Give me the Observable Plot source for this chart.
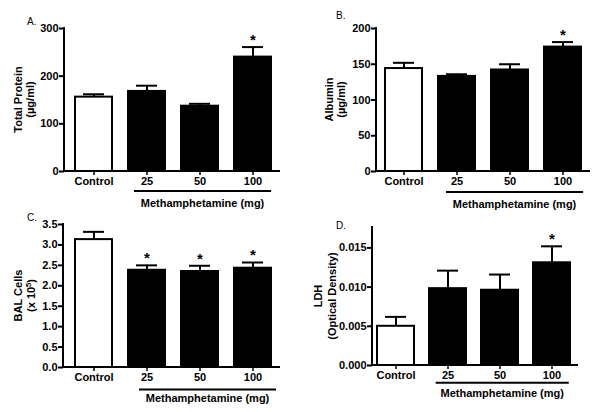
<!DOCTYPE html>
<html><head><meta charset="utf-8">
<script src="https://cdn.jsdelivr.net/npm/d3@7"></script>
<script src="https://cdn.jsdelivr.net/npm/@observablehq/plot@0.6"></script>
<style>
body{margin:0;background:#fff;}
#wrap{position:relative;width:600px;height:412px;overflow:hidden;font-family:"Liberation Sans",Arial,sans-serif;color:#000;}
.panel{position:absolute;}
.panel svg{background:transparent;}
.panel svg text{font-weight:bold;}
.lab{position:absolute;font-size:10px;line-height:12px;color:#000;}
</style></head><body><div id="wrap"></div>
<script>
// ---- data ----
const categories = ["Control", "25", "50", "100"];
const doseLabel = "Methamphetamine (mg)";

const proteinMean = [156, 168, 137, 240];
const proteinSem  = [6, 12, 5, 21];
const proteinStar = [0, 0, 0, 1];
const proteinTicks = [0, 100, 200, 300];

const albuminMean = [144, 133, 142, 174];
const albuminSem  = [8, 3, 8, 7];
const albuminStar = [0, 0, 0, 1];
const albuminTicks = [0, 50, 100, 150, 200];

const balMean = [3.13, 2.38, 2.35, 2.43];
const balSem  = [0.19, 0.12, 0.14, 0.14];
const balStar = [0, 1, 1, 1];
const balTicks = [0, 0.5, 1.0, 1.5, 2.0, 2.5, 3.0, 3.5];

const ldhMean = [0.0050, 0.0098, 0.0096, 0.0131];
const ldhSem  = [0.0012, 0.0023, 0.0020, 0.0021];
const ldhStar = [0, 0, 0, 1];
const ldhTicks = [0, 0.005, 0.010, 0.015];

const FONT = '"Liberation Sans", Arial, Helvetica, sans-serif';

function rows(mean, sem, star) {
  return categories.map((c, i) => ({cat: c, value: mean[i], top: mean[i] + sem[i], star: star[i] === 1, control: i === 0}));
}

const panels = [
  {letter: "A.", left: 0, top: 0, lx: 27, ly: 22, data: rows(proteinMean, proteinSem, proteinStar),
   mL: 64, mR: 20, mT: 28, mB: 41, xr: [74, 272], pad: 0.3, yd: [0, 300], ticks: proteinTicks, fmt: d => String(d),
   title: [[["Total Protein"]], [["(µg/ml)"]]], tx: [18, 30], under: [6, 0], uDy: 20, lDy: 32},
  {letter: "B.", left: 300, top: 0, lx: 36, ly: 16, data: rows(albuminMean, albuminSem, albuminStar),
   mL: 76, mR: 10, mT: 28, mB: 41, xr: [84, 282], pad: 0.3, yd: [0, 200], ticks: albuminTicks, fmt: d => String(d),
   title: [[["Albumin"]], [["(µg/ml)"]]], tx: [29, 41], under: [8, 2], uDy: 21, lDy: 33},
  {letter: "C.", left: 0, top: 200, lx: 27, ly: 18, data: rows(balMean, balSem, balStar),
   mL: 63, mR: 20, mT: 24, mB: 45, xr: [74, 273], pad: 0.3, yd: [0, 3.5], ticks: balTicks, fmt: d3.format(".1f"),
   title: [[["BAL Cells"]], [["(x 10"], ["5", true], [")"]]], tx: [18, 31], under: [11, 5], uDy: 22.6, lDy: 31.3},
  {letter: "D.", left: 300, top: 200, lx: 36, ly: 26, data: rows(ldhMean, ldhSem, ldhStar),
   mL: 72, mR: 22, mT: 27, mB: 47, xr: [76, 271], pad: 0.28, yd: [0, 0.0176], ticks: ldhTicks, fmt: d3.format(".3f"),
   title: [[["LDH"]], [["(Optical Density)"]]], tx: [18.3, 31.7], under: [6.7, -1.7], uDy: 17.7, lDy: 27.7}
];

function decor(cfg) {
  return (index, scales, values, dims) => {
    const x = scales.x;
    const g = d3.create("svg:g").attr("fill", "#000").attr("font-family", FONT);
    const x0 = dims.marginLeft, x1 = dims.width - dims.marginRight;
    const yt = dims.marginTop, yb = dims.height - dims.marginBottom;
    g.append("line").attr("x1", x0).attr("x2", x0).attr("y1", yt - 1).attr("y2", yb + 1)
      .attr("stroke", "#000").attr("stroke-width", 2);
    g.append("line").attr("x1", x0 - 1).attr("x2", x1).attr("y1", yb).attr("y2", yb)
      .attr("stroke", "#000").attr("stroke-width", 2);
    const yc = (yt + yb) / 2;
    cfg.title.forEach((segs, i) => {
      const t = g.append("text").attr("transform", `translate(${cfg.tx[i]},${yc}) rotate(-90)`)
        .attr("text-anchor", "middle").attr("dy", "0.35em").attr("font-size", 11).attr("font-weight", "bold");
      segs.forEach(([s, sup]) => {
        const ts = t.append("tspan").text(s);
        if (sup) ts.attr("font-size", 7.5).attr("dy", -4);
        else if (t.selectAll("tspan").size() > 1) ts.attr("dy", 4);
      });
    });
    const step = x(categories[2]) - x(categories[1]);
    const bw = step * (1 - cfg.pad);
    const ux1 = x(categories[1]) + cfg.under[0];
    const ux2 = x(categories[3]) + bw + cfg.under[1];
    g.append("line").attr("x1", ux1).attr("x2", ux2).attr("y1", yb + cfg.uDy).attr("y2", yb + cfg.uDy)
      .attr("stroke", "#000").attr("stroke-width", 2);
    g.append("text").attr("x", (ux1 + ux2) / 2).attr("y", yb + cfg.lDy).attr("dy", "0.35em")
      .attr("text-anchor", "middle").attr("font-size", 11).attr("font-weight", "bold").text(doseLabel);
    return g.node();
  };
}

const wrap = document.getElementById("wrap");
for (const cfg of panels) {
  const chart = Plot.plot({
    width: 300, height: 212,
    marginLeft: cfg.mL, marginRight: cfg.mR, marginTop: cfg.mT, marginBottom: cfg.mB,
    style: {fontFamily: FONT, fontWeight: "bold", fontSize: "10.5px", background: "transparent", color: "#000"},
    x: {type: "band", domain: categories, range: cfg.xr, paddingInner: cfg.pad, paddingOuter: 0, align: 0.5},
    y: {domain: cfg.yd},
    marks: [
      Plot.barY(cfg.data, {filter: d => d.control, x: "cat", y: "value", fill: "white", stroke: "#000", strokeWidth: 2}),
      Plot.barY(cfg.data, {filter: d => !d.control, x: "cat", y: "value", fill: "#000", stroke: "#000", strokeWidth: 2}),
      Plot.ruleX(cfg.data, {x: "cat", y1: "value", y2: "top", stroke: "#000", strokeWidth: 2}),
      Plot.tickY(cfg.data, {x: "cat", y: "top", stroke: "#000", strokeWidth: 2, insetLeft: 8, insetRight: 8}),
      Plot.text(cfg.data.filter(d => d.star), {x: "cat", y: "top", text: () => "*", dy: -7, fontSize: 15, fontWeight: "bold"}),
      Plot.axisY({ticks: cfg.ticks, tickFormat: cfg.fmt, tickSize: 5, tickPadding: 1, strokeWidth: 2, fontSize: 11, fontWeight: "bold", label: null}),
      Plot.axisX({tickSize: 4, tickPadding: 2, strokeWidth: 1.5, fontSize: 11, fontWeight: "bold", label: null}),
      decor(cfg)
    ]
  });
  const div = document.createElement("div");
  div.className = "panel";
  div.style.left = cfg.left + "px";
  div.style.top = cfg.top + "px";
  div.appendChild(chart);
  wrap.appendChild(div);
  const lab = document.createElement("div");
  lab.className = "lab";
  lab.textContent = cfg.letter;
  lab.style.left = (cfg.left + cfg.lx) + "px";
  lab.style.top = (cfg.top + cfg.ly - 6) + "px";
  wrap.appendChild(lab);
}
</script>
</body></html>
